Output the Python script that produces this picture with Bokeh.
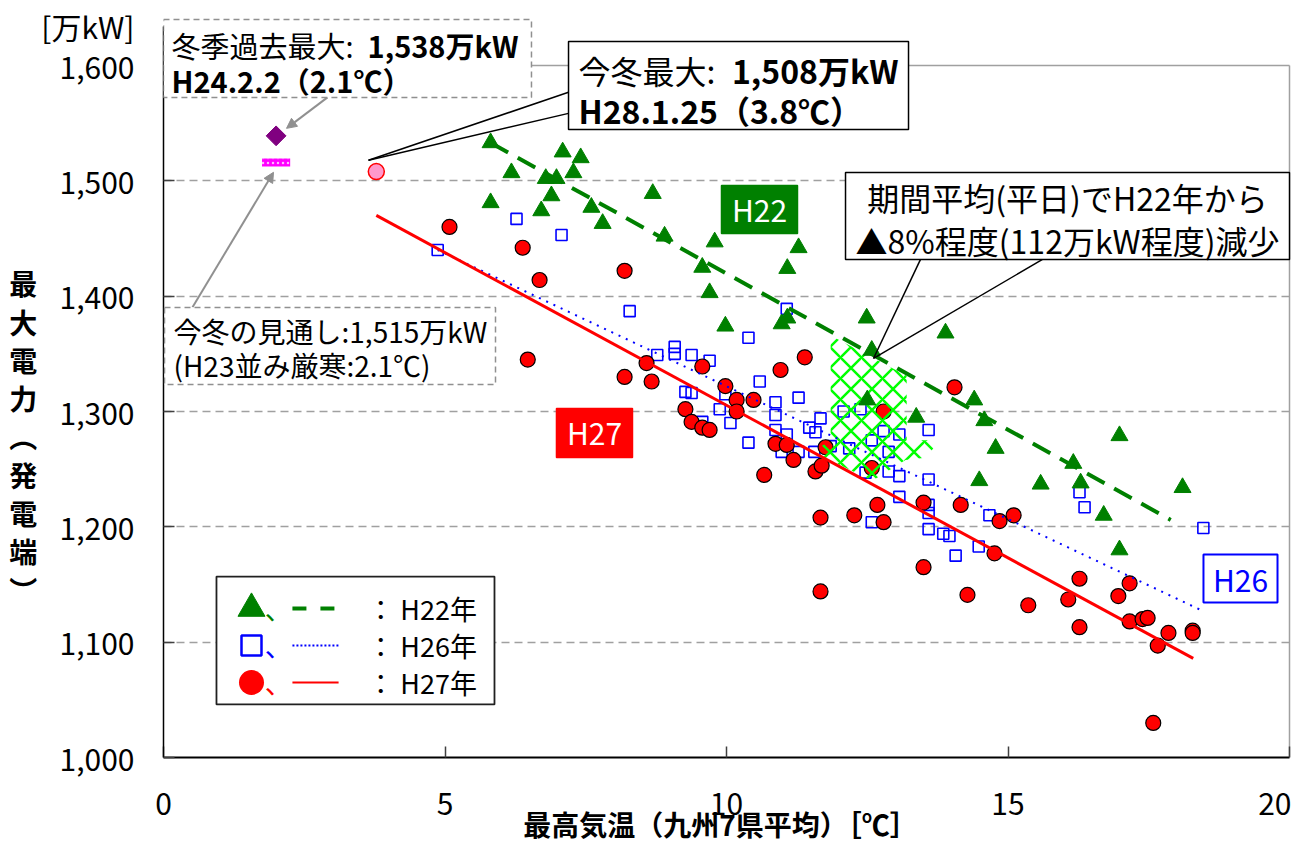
from bokeh.plotting import figure
from bokeh.models import (Range1d, Label, Arrow, NormalHead, NumeralTickFormatter,
                          FixedTicker, ColumnDataSource, BoxAnnotation)
from bokeh.embed import file_html
from bokeh.resources import INLINE

FONT = "Noto Sans CJK JP"

# ---------------- data ----------------
x_ticks = [0, 5, 10, 15, 20]
y_ticks = [1000, 1100, 1200, 1300, 1400, 1500, 1600]
unit_tick = 1634            # position of the "[万kW]" unit label on the y axis
unit_label = "[万kW]"

h22_temp = [5.81, 5.81, 6.18, 6.71, 6.89, 6.79, 6.98, 7.09, 7.41, 7.28,
            7.60, 7.80, 8.69, 8.90, 9.57, 9.70, 9.79, 9.98, 11.08, 10.98,
            11.08, 11.28, 12.49, 12.58, 12.50, 13.37, 13.89, 14.40, 14.58, 14.78,
            14.49, 15.58, 16.16, 16.29, 16.70, 16.98, 16.98, 18.10]
h22_load = [1533, 1481, 1507, 1474, 1487, 1502, 1502, 1525, 1520, 1507,
            1477, 1463, 1489, 1452, 1425, 1403, 1447, 1374, 1424, 1376,
            1381, 1442, 1381, 1353, 1310, 1295, 1368, 1310, 1292, 1268,
            1240, 1237, 1255, 1238, 1210, 1279, 1180, 1234]

h26_temp = [4.87, 6.27, 7.07, 8.28, 8.77, 9.08, 9.08, 9.38, 9.70, 9.27,
            9.38, 9.57, 9.98, 9.88, 10.07, 10.39, 10.59, 10.39, 10.87, 10.87,
            10.87, 11.07, 11.07, 11.28, 10.98, 11.28, 11.47, 11.58, 11.67, 11.56,
            11.85, 12.08, 12.18, 12.38, 12.58, 12.79, 12.88, 13.07, 13.07, 12.88,
            12.47, 12.58, 13.07, 13.59, 13.59, 13.59, 13.59, 13.59, 13.85, 13.96,
            14.07, 14.48, 14.67, 16.27, 16.36, 18.47]
h26_load = [1440, 1467, 1453, 1387, 1349, 1356, 1350, 1349, 1344, 1317,
            1316, 1291, 1315, 1302, 1290, 1364, 1326, 1273, 1308, 1297,
            1284, 1280, 1389, 1312, 1265, 1265, 1286, 1282, 1294, 1265,
            1270, 1300, 1268, 1302, 1275, 1283, 1265, 1280, 1244, 1248,
            1247, 1204, 1226, 1284, 1241, 1219, 1212, 1198, 1194, 1192,
            1175, 1183, 1210, 1230, 1217, 1199]

h27_temp = [5.08, 6.38, 6.68, 6.47, 8.19, 8.19, 8.58, 8.67, 9.27, 9.38,
            9.57, 9.70, 9.57, 9.98, 10.18, 10.18, 10.48, 10.96, 11.39, 10.87,
            11.07, 11.19, 10.67, 11.58, 11.69, 11.76, 12.79, 12.58, 11.67, 12.27,
            12.68, 12.79, 13.50, 13.50, 11.67, 14.05, 14.16, 14.76, 14.85, 15.10,
            14.28, 15.36, 16.27, 16.07, 16.27, 16.96, 17.16, 17.16, 17.39, 17.48,
            17.85, 17.66, 18.28, 18.28, 17.58]
h27_load = [1460, 1442, 1414, 1345, 1422, 1330, 1342, 1326, 1302, 1291,
            1286, 1284, 1339, 1322, 1310, 1300, 1310, 1336, 1347, 1272,
            1271, 1258, 1245, 1248, 1253, 1269, 1300, 1251, 1208, 1210,
            1219, 1204, 1221, 1165, 1144, 1321, 1219, 1177, 1205, 1210,
            1141, 1132, 1155, 1137, 1113, 1140, 1151, 1118, 1120, 1121,
            1108, 1097, 1110, 1108, 1030]

# trend lines (end points)
h22_trend_x = [5.81, 17.89]
h22_trend_y = [1533, 1206]
h26_trend_x = [4.87, 18.42]
h26_trend_y = [1440, 1128]
h27_trend_x = [3.78, 18.29]
h27_trend_y = [1470, 1086]

# special points
record_x = [2.0]          # 冬季過去最大 H24.2.2
record_y = [1539]
outlook_x = [2.0]         # 今冬の見通し
outlook_y = [1516]
this_winter_x = [3.78]    # 今冬最大 H28.1.25
this_winter_y = [1508]

# hatched "reduction" area
hatch_x = [11.85, 13.20, 13.20, 13.80, 13.53, 13.18, 12.59, 11.53, 11.85]
hatch_y = [1366, 1331, 1275, 1275, 1260, 1258, 1240, 1265, 1275]

legend_labels = ["\uff1a H22年", "\uff1a H26年", "\uff1a H27年"]
x_title = "最高気温（九州7県平均）［℃］"
y_title = ["最", "大", "電", "力", "︵", "発", "電", "端", "︶"]

# ---------------- figure ----------------
X_END = 20.0355
Y_END = 1656.36
p = figure(width=1291, height=851, output_backend="svg", toolbar_location=None,
           x_range=Range1d(0, X_END), y_range=Range1d(1000, Y_END),
           min_border_left=163, min_border_right=0, min_border_top=0,
           min_border_bottom=94, background_fill_color="white",
           border_fill_color="white")
p.outline_line_color = None
p.xgrid.visible = False
p.ygrid.ticker = FixedTicker(ticks=y_ticks[1:-1])
p.ygrid.bounds = (0, 20)
p.ygrid.grid_line_color = "#A0A0A0"
p.ygrid.grid_line_dash = "8 5"
p.ygrid.grid_line_width = 1.3

p.xaxis.ticker = FixedTicker(ticks=x_ticks)
p.yaxis.ticker = FixedTicker(ticks=y_ticks + [unit_tick])
p.yaxis.formatter = NumeralTickFormatter(format="0,0")
p.yaxis.major_label_overrides = {unit_tick: unit_label}
p.xaxis.bounds = (0, 20)
p.yaxis.bounds = (1000, unit_tick)
for ax in (p.xaxis[0], p.yaxis[0]):
    ax.major_tick_in = 11
    ax.major_tick_out = 0
    ax.minor_tick_in = 0
    ax.minor_tick_out = 0
    ax.major_tick_line_color = "#404040"
    ax.major_tick_line_width = 1.5
    ax.major_label_text_font = FONT
    ax.major_label_text_font_size = "30px"
    ax.major_label_text_color = "black"
    ax.axis_line_color = "black"
    ax.axis_label_text_font = FONT
    ax.axis_label_text_font_size = "28px"
    ax.axis_label_text_font_style = "bold"
    ax.axis_label_text_color = "black"
p.xaxis.axis_line_width = 2
p.yaxis.axis_line_width = 1.5
p.xaxis.major_label_standoff = 35
p.yaxis.major_label_standoff = 29

p.xaxis.axis_label = x_title + "\u3000"
p.xaxis.axis_label_standoff = -14
p.yaxis.axis_label = "\n\n\n" + "\n".join(y_title)
p.yaxis.axis_label_standoff = 1
p.yaxis.axis_label_text_line_height = 0.957
try:
    p.yaxis[0].axis_label_orientation = "horizontal"
except Exception:
    pass

# frame lines (top at 1600, right at 20)
p.segment(x0=[0, 20], y0=[1600, 1000], x1=[20, 20], y1=[1600, 1600],
          line_color="#A0A0A0", line_width=1.5)

# legend frame (drawn first, inside the plot)
p.quad(left=[0.941], right=[5.879], top=[1156.9], bottom=[1046.0],
       fill_color="white", line_color="#202020", line_width=1.8)

# data markers
s22 = ColumnDataSource(dict(x=h22_temp, y=h22_load))
s26 = ColumnDataSource(dict(x=h26_temp, y=h26_load))
s27 = ColumnDataSource(dict(x=h27_temp, y=h27_load))

p.scatter("x", "y", source=s26, marker="square", size=11, fill_color=None,
          line_color="#0000FF", line_width=1.6)
p.scatter("x", "y", source=s27, marker="circle", size=15, fill_color="#FF0000",
          line_color="black", line_width=1.2)
p.patch(hatch_x, hatch_y, fill_alpha=0, line_alpha=0, hatch_pattern="x",
        hatch_color="#00FF00", hatch_weight=2.5, hatch_scale=21)
p.scatter("x", "y", source=s22, marker="triangle", size=17, fill_color="#008000",
          line_color="#008000")

# trend lines
p.line(h22_trend_x, h22_trend_y, line_color="#008000", line_width=4, line_dash="20 11")
p.line(h26_trend_x, h26_trend_y, line_color="#0000FF", line_width=2, line_dash="2 6")
p.line(h27_trend_x, h27_trend_y, line_color="#FF0000", line_width=3)

# special points
p.scatter(record_x, record_y, marker="square", angle=0.785398, size=14,
          fill_color="#800080", line_color="#800080")
p.rect(outlook_x, outlook_y, width=0.5, height=8, height_units="screen",
       fill_color="#FF00FF", line_color=None, hatch_pattern="dot",
       hatch_color="#FFB8FF", hatch_scale=5)
p.scatter(this_winter_x, this_winter_y, marker="circle", size=16,
          fill_color="#FF99CC", line_color="#FF0000", line_width=1.5)

# legend contents
leg_rows = [1129.2, 1097.1, 1065.0]
leg_marker_x = 1.563
p.scatter([leg_marker_x], [leg_rows[0]], marker="triangle", size=27,
          fill_color="#008000", line_color="#008000")
p.scatter([leg_marker_x], [leg_rows[1]], marker="square", size=20,
          fill_color=None, line_color="#0000FF", line_width=2.5)
p.scatter([leg_marker_x], [leg_rows[2]], marker="circle", size=25,
          fill_color="#FF0000", line_color=None)
p.line([2.29, 3.11], [leg_rows[0]] * 2, line_color="#008000", line_width=4, line_dash="14 14")
p.line([2.29, 3.11], [leg_rows[1]] * 2, line_color="#0000FF", line_width=2, line_dash="2 2")
p.line([2.29, 3.11], [leg_rows[2]] * 2, line_color="#FF0000", line_width=2)
for row, col, lab in zip(leg_rows, ["#008000", "#0000FF", "#FF0000"], legend_labels):
    p.add_layout(Label(x=1.80, y=row, text="、", text_font=FONT, text_font_size="27px",
                       text_color=col, text_align="left", text_baseline="middle"))
    p.add_layout(Label(x=3.62, y=row, text=lab, text_font=FONT, text_font_size="27px",
                       text_color="black", text_align="left", text_baseline="middle"))


# ---------------- annotations ----------------
def box(left, right, top, bottom, fill="white", line="black", dash="solid", lw=1.5):
    p.add_layout(BoxAnnotation(left=left, right=right, top=top, bottom=bottom,
                               fill_color=fill, fill_alpha=1.0, line_color=line,
                               line_dash=dash, line_width=lw, line_alpha=1.0))


def txt(x, y, s, size, bold=False, color="black", align="left"):
    p.add_layout(Label(x=x, y=y, text=s, text_font=FONT, text_font_size=size,
                       text_font_style="bold" if bold else "normal", text_color=color,
                       text_align=align, text_baseline="middle"))


grey = "#909090"
# arrows to the special points
p.add_layout(Arrow(end=NormalHead(size=10, fill_color=grey, line_color=grey),
                   x_start=2.913, y_start=1572.4, x_end=2.185, y_end=1545.5,
                   line_color=grey, line_width=2))
p.add_layout(Arrow(end=NormalHead(size=10, fill_color=grey, line_color=grey),
                   x_start=0.515, y_start=1390.3, x_end=1.954, y_end=1507.4,
                   line_color=grey, line_width=2))
# callout pointers
for xs, ys, xe, ye in [(7.194, 1576.8, 3.641, 1517.8), (7.194, 1558.5, 3.641, 1517.8),
                       (13.446, 1431.9, 12.611, 1346.0), (15.613, 1431.9, 12.611, 1346.0)]:
    p.add_layout(Arrow(end=None, x_start=xs, y_start=ys, x_end=xe, y_end=ye,
                       line_color="black", line_width=1.5))

# box 1: past winter record
box(0.0, 6.536, 1639.9, 1572.3, line=grey, dash="6 4")
txt(0.142, 1618.2, "冬季過去最大:", "29px")
txt(6.306, 1618.2, "1,538万kW", "29px", bold=True, align="right")
txt(0.142, 1587.0, "H24.2.2（2.1℃）", "29px", bold=True)

# box 3: this winter max
box(7.194, 13.233, 1620.8, 1544.5)
txt(7.371, 1596.5, "今冬最大:", "32px")
txt(13.055, 1596.5, "1,508万kW", "32px", bold=True, align="right")
txt(7.371, 1561.0, "H28.1.25（3.8℃）", "32px", bold=True)

# box 4: reduction
box(12.114, 20.0, 1507.2, 1431.8)
txt(16.057, 1486.4, "期間平均(平日)でH22年から", "32px", align="center")
txt(16.057, 1449.1, "▲8%程度(112万kW程度)減少", "32px", align="center")

# box 5: outlook
box(0.018, 5.897, 1390.2, 1323.4, line=grey, dash="6 4")
txt(0.178, 1370.2, "今冬の見通し:1,515万kW", "28px")
txt(0.178, 1339.9, "(H23並み厳寒:2.1℃)", "28px")

# series tags
box(9.911, 11.261, 1496.0, 1454.3, fill="#008000", line="#008000")
txt(10.586, 1475.2, "H22", "30px", color="white", align="center")
box(6.980, 8.330, 1302.6, 1260.1, fill="#FF0000", line="#FF0000")
txt(7.655, 1281.8, "H27", "30px", color="white", align="center")
box(18.472, 19.787, 1176.0, 1134.4, fill="white", line="#0000FF", lw=2)
txt(19.130, 1155.2, "H26", "30px", color="#0000FF", align="center")

open("out.html", "w").write(file_html(p, INLINE))
